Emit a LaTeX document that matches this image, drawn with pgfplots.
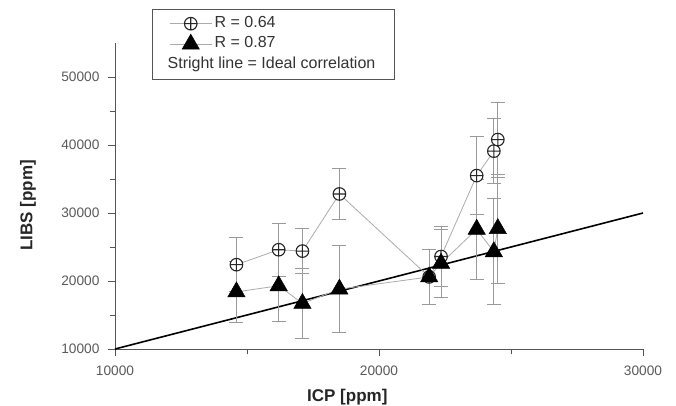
\documentclass[border=0pt]{standalone}
\usepackage{fontspec}
\setmainfont{Liberation Sans}
\usepackage{pgfplots}
\usepackage{pgfplotstable}
\pgfplotsset{compat=1.18}

\definecolor{axisgray}{HTML}{555555}
\definecolor{errgray}{HTML}{9A9A9A}
\definecolor{linegray}{HTML}{ABABAB}
\definecolor{ticktext}{HTML}{5A5A5A}

% R = 0.64 (open circles)
\pgfplotstableread{
x      y      e
14600  22400  4000
16200  24600  3900
17100  24400  3300
18500  32800  3700
21900  20600  4000
22350  23600  4400
23700  35500  5700
24350  39100  4800
24500  40800  5500
}\circdata

% R = 0.87 (filled triangles)
\pgfplotstableread{
x      y      e
14600  18400  4500
16200  19300  5200
17100  16700  5200
18500  18800  6400
21900  20600  4000
22350  22600  5000
23700  27600  7300
24350  24300  7800
24500  27700  8000
}\tridata

\begin{document}
\begin{tikzpicture}
\useasboundingbox (-115pt,-56pt) rectangle (561pt,349pt);
\begin{axis}[
  at={(0,0)}, anchor=south west,
  scale only axis, width=528pt, height=306pt,
  xmin=10000, xmax=30000, ymin=10000, ymax=55000,
  xtick={10000,20000,30000}, ytick={10000,20000,30000,40000,50000},
  minor x tick num=1, minor y tick num=1,
  axis lines=left, axis line style={-, draw=axisgray, line width=0.9pt},
  tick align=outside, major tick length=7pt, minor tick length=5pt,
  tick style={axisgray, line width=0.9pt},
  scaled ticks=false,
  /pgf/number format/1000 sep={}, /pgf/number format/assume math mode=true,
  ticklabel style={font=\fontsize{13.7}{16}\selectfont, text=ticktext},
  xticklabel style={yshift=-6pt},
  yticklabel style={xshift=-5pt},
  xlabel={ICP [ppm]}, ylabel={LIBS [ppm]},
  label style={font=\fontsize{17}{20}\selectfont\bfseries, text=black!85},
  xlabel style={at={(axis description cs:0.44,-0.156)}, anchor=center},
  ylabel style={at={(axis description cs:-0.165,0.47)}, anchor=center},
  legend style={at={(axis description cs:0.07,1.111)}, anchor=north west,
    draw=axisgray, line width=0.8pt, font=\fontsize{16}{19}\selectfont,
    text=black!80, inner xsep=17pt, inner ysep=4pt, row sep=0pt,
    nodes={text height=11.5pt, text depth=4pt, inner sep=2.5pt}},
  legend cell align=left,
  legend image code/.code={\draw[mark repeat=2, mark phase=2]
    plot coordinates {(0pt,0pt) (21pt,0pt) (42pt,0pt)};},
]
\addplot[black, line width=1.6pt, forget plot] coordinates {(10000,10000) (30000,30000)};

\addplot[linegray, line width=0.8pt, mark=oplus*, mark size=6.3pt,
  mark options={draw=black!85, fill=white, line width=1.1pt},
  error bars/.cd, y dir=both, y explicit,
  error bar style={errgray, line width=0.9pt},
  error mark options={rotate=90, mark size=7pt, errgray, line width=0.9pt}]
  table[x=x, y=y, y error=e] {\circdata};
\addlegendentry{R = 0.64}

\addplot[linegray, line width=0.8pt, mark=triangle*, mark size=10pt,
  mark options={draw=black, fill=black, line width=0.5pt},
  error bars/.cd, y dir=both, y explicit,
  error bar style={errgray, line width=0.9pt},
  error mark options={rotate=90, mark size=7pt, errgray, line width=0.9pt}]
  table[x=x, y=y, y error=e] {\tridata};
\addlegendentry{R = 0.87}

\addlegendimage{empty legend}
\addlegendentry{\hspace{-47pt}Stright line = Ideal correlation}
\end{axis}
\end{tikzpicture}
\end{document}
